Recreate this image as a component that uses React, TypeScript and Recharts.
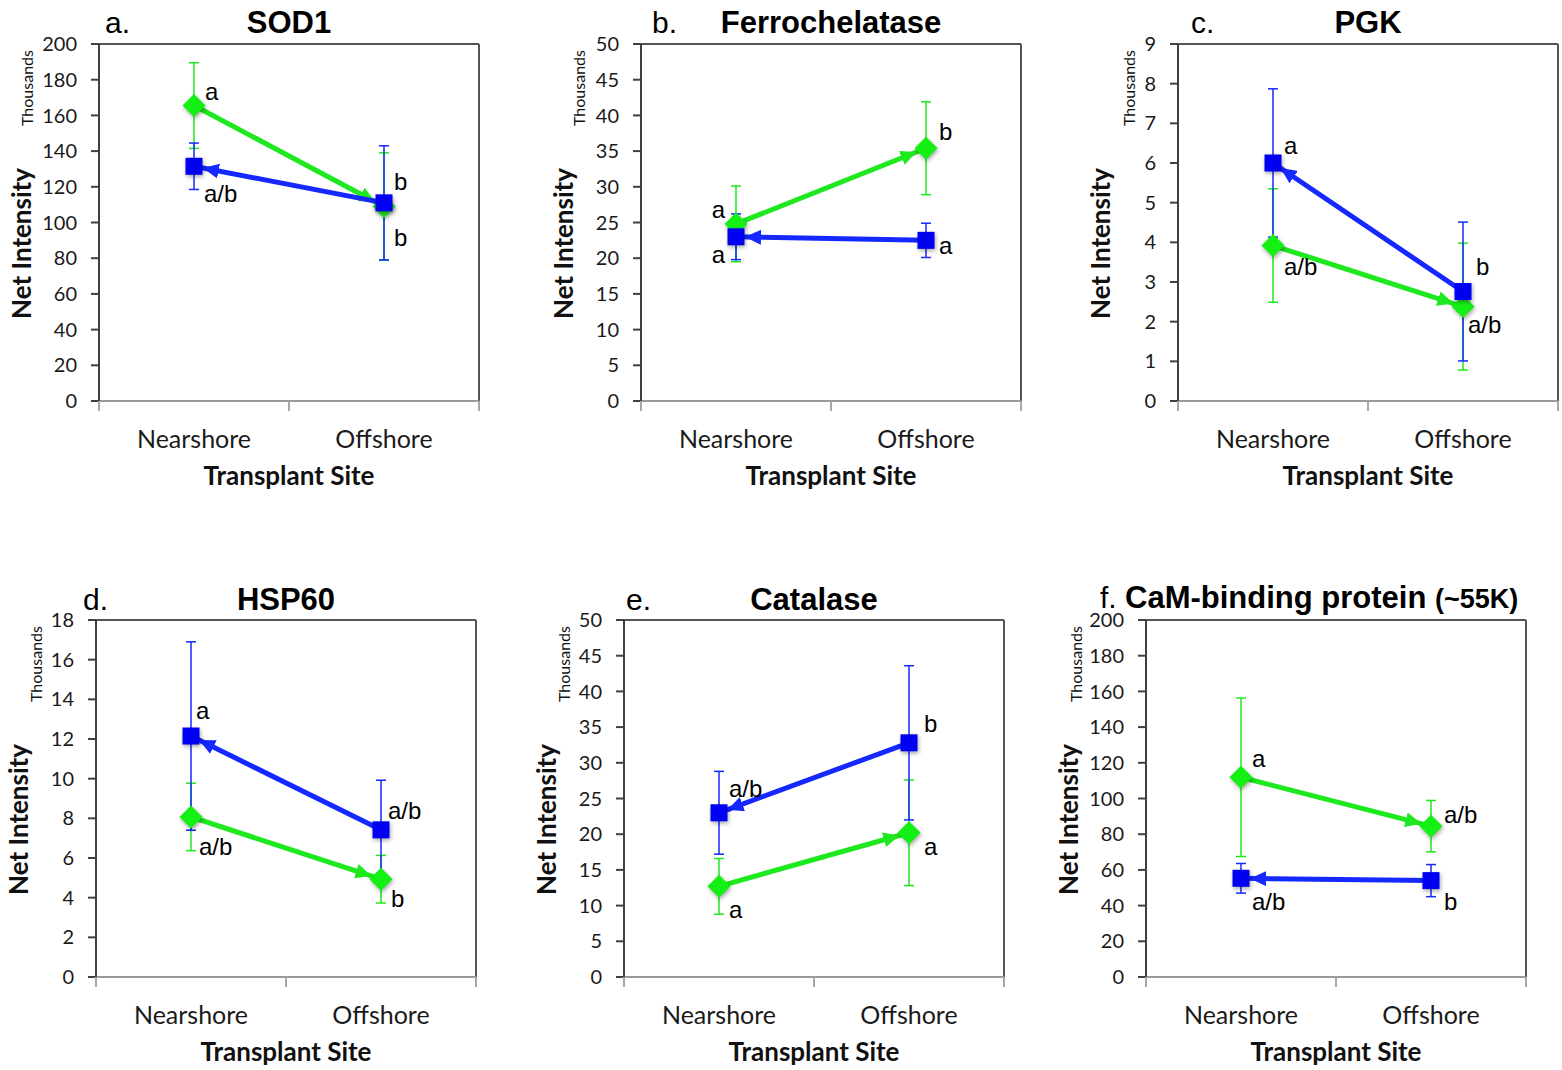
import React from 'react';
import { LineChart, Line, XAxis, YAxis, ErrorBar, LabelList, ReferenceLine } from 'recharts';

// ---------- data (values in thousands) ----------
const sites = ['Nearshore', 'Offshore'];

const sod1Green = [165.5, 109];
const sod1GreenErr = [24, 30];
const sod1Blue = [131.5, 111];
const sod1BlueErr = [13, 32];
const sod1GreenLetters = ['a', 'b'];
const sod1BlueLetters = ['a/b', 'b'];
const sod1Ticks = [0, 20, 40, 60, 80, 100, 120, 140, 160, 180, 200];

const ferroGreen = [24.8, 35.4];
const ferroGreenErr = [5.3, 6.5];
const ferroBlue = [23.0, 22.5];
const ferroBlueErr = [3.2, 2.4];
const ferroGreenLetters = ['a', 'b'];
const ferroBlueLetters = ['a', 'a'];
const ferroTicks = [0, 5, 10, 15, 20, 25, 30, 35, 40, 45, 50];

const pgkGreen = [3.92, 2.38];
const pgkGreenErr = [1.43, 1.6];
const pgkBlue = [6.0, 2.76];
const pgkBlueErr = [1.87, 1.75];
const pgkGreenLetters = ['a/b', 'a/b'];
const pgkBlueLetters = ['a', 'b'];
const pgkTicks = [0, 1, 2, 3, 4, 5, 6, 7, 8, 9];

const hspGreen = [8.07, 4.93];
const hspGreenErr = [1.7, 1.2];
const hspBlue = [12.15, 7.42];
const hspBlueErr = [4.75, 2.5];
const hspGreenLetters = ['a/b', 'b'];
const hspBlueLetters = ['a', 'a/b'];
const hspTicks = [0, 2, 4, 6, 8, 10, 12, 14, 16, 18];

const catGreen = [12.7, 20.2];
const catGreenErr = [3.9, 7.4];
const catBlue = [23.0, 32.8];
const catBlueErr = [5.8, 10.8];
const catGreenLetters = ['a', 'a'];
const catBlueLetters = ['a/b', 'b'];
const catTicks = [0, 5, 10, 15, 20, 25, 30, 35, 40, 45, 50];

const camGreen = [111.9, 84.5];
const camGreenErr = [44.4, 14.4];
const camBlue = [55.3, 54.0];
const camBlueErr = [8.3, 9.0];
const camGreenLetters = ['a', 'a/b'];
const camBlueLetters = ['a/b', 'b'];
const camTicks = [0, 20, 40, 60, 80, 100, 120, 140, 160, 180, 200];

const panelLetters = ['a.', 'b.', 'c.', 'd.', 'e.', 'f.'];
const panelTitles = ['SOD1', 'Ferrochelatase', 'PGK', 'HSP60', 'Catalase', 'CaM-binding protein'];
const panelTitleSuffix = ['', '', '', '', '', '(~55K)'];

// ---------- styles ----------
const GREEN_LINE = '#1ee81e';
const GREEN_MARK = '#14f014';
const BLUE_LINE = '#1428ff';
const BLUE_MARK = '#0000f2';
const ARIAL = '"Liberation Sans", Arial, sans-serif';
const CAL = 'Lato, "Open Sans", sans-serif';

const PLOT_W = 380;
const PLOT_H = 357;
const ML = 100; // plot left inside chart
const MT = 44; // plot top inside chart
const CW = 484;
const CH = 501;

type Off = [number, number, string?];

const layouts = [
  { pl: 99, pt: 44, letterDx: 6, titleGap: 11.5, thDx: -66,
    gOff: [[11, -5.6], [10, 40]] as Off[], bOff: [[10, 35.4], [10, -13]] as Off[] },
  { pl: 641, pt: 44, letterDx: 11, titleGap: 11.5, thDx: -56,
    gOff: [[-11, -6, 'end'], [13, -8]] as Off[], bOff: [[-11, 26, 'end'], [13, 14]] as Off[] },
  { pl: 1178, pt: 44, letterDx: 13, titleGap: 11.5, thDx: -43,
    gOff: [[11, 29.5], [5, 26.5]] as Off[], bOff: [[11, -9], [13, -16.5]] as Off[] },
  { pl: 96, pt: 620, letterDx: -13, titleGap: 10, thDx: -54,
    gOff: [[8, 38], [10, 27.5]] as Off[], bOff: [[5, -17], [7, -11]] as Off[] },
  { pl: 624, pt: 620, letterDx: 2, titleGap: 10, thDx: -54,
    gOff: [[10, 32], [15, 22]] as Off[], bOff: [[10, -16], [15, -11]] as Off[] },
  { pl: 1146, pt: 620, letterDx: -46, titleGap: 12.5, thDx: -64,
    gOff: [[11, -10.6], [13, -3]] as Off[], bOff: [[11, 32], [13, 29.5]] as Off[] },
];

const panelData = [
  { g: sod1Green, ge: sod1GreenErr, b: sod1Blue, be: sod1BlueErr, gl: sod1GreenLetters, bl: sod1BlueLetters, ticks: sod1Ticks },
  { g: ferroGreen, ge: ferroGreenErr, b: ferroBlue, be: ferroBlueErr, gl: ferroGreenLetters, bl: ferroBlueLetters, ticks: ferroTicks },
  { g: pgkGreen, ge: pgkGreenErr, b: pgkBlue, be: pgkBlueErr, gl: pgkGreenLetters, bl: pgkBlueLetters, ticks: pgkTicks },
  { g: hspGreen, ge: hspGreenErr, b: hspBlue, be: hspBlueErr, gl: hspGreenLetters, bl: hspBlueLetters, ticks: hspTicks },
  { g: catGreen, ge: catGreenErr, b: catBlue, be: catBlueErr, gl: catGreenLetters, bl: catBlueLetters, ticks: catTicks },
  { g: camGreen, ge: camGreenErr, b: camBlue, be: camBlueErr, gl: camGreenLetters, bl: camBlueLetters, ticks: camTicks },
];

const xTicks = sites.flatMap((_, i) => [i, i + 0.5]).concat([sites.length]);

const shadow = 'drop-shadow(1px 2px 2px rgba(0,0,0,0.35))';

const renderDiamond = (p: any) => {
  const { cx, cy, index } = p;
  if (cx == null || cy == null) return <g key={`gd${index}`} />;
  const r = 11.5;
  return (
    <path
      key={`gd${index}`}
      d={`M${cx},${cy - r}L${cx + r},${cy}L${cx},${cy + r}L${cx - r},${cy}Z`}
      fill={GREEN_MARK}
      style={{ filter: shadow }}
    />
  );
};

const renderSquare = (p: any) => {
  const { cx, cy, index } = p;
  if (cx == null || cy == null) return <g key={`bs${index}`} />;
  const h = 8.5;
  return (
    <rect key={`bs${index}`} x={cx - h} y={cy - h} width={2 * h} height={2 * h} fill={BLUE_MARK} style={{ filter: shadow }} />
  );
};

const makeLabel = (offs: Off[]) => (p: any) => {
  const { x, y, index, value } = p;
  const o = offs[index] || [10, 0];
  return (
    <text
      key={`lab${index}`}
      x={x + o[0]}
      y={y + o[1]}
      textAnchor={o[2] || 'start'}
      fontFamily={ARIAL}
      fontSize={24}
      fill="#000"
    >
      {value}
    </text>
  );
};

const SiteTick = (p: any) => {
  const { x, y, payload } = p;
  const v = payload.value;
  if (Number.isInteger(v)) {
    return <line x1={x} y1={y} x2={x} y2={y + 10} stroke="#a8a8a8" strokeWidth={2} />;
  }
  return (
    <text x={x} y={y + 47} textAnchor="middle" fontFamily={CAL} fontSize={25} fill="#1a1a1a">
      {sites[Math.floor(v)]}
    </text>
  );
};

function Panel({ idx }: { idx: number }) {
  const L = layouts[idx];
  const D = panelData[idx];
  const data = sites.map((site, i) => ({
    site,
    x: i + 0.5,
    green: D.g[i],
    greenErr: D.ge[i],
    blue: D.b[i],
    blueErr: D.be[i],
    greenLetter: D.gl[i],
    blueLetter: D.bl[i],
  }));
  const yMax = D.ticks[D.ticks.length - 1];
  const cx = ML + PLOT_W / 2;
  const titleY = MT - L.titleGap;
  return (
    <div style={{ position: 'absolute', left: L.pl - ML, top: L.pt - MT, width: CW, height: CH }}>
      <LineChart width={CW} height={CH} data={data} margin={{ top: MT, right: 4, bottom: 10, left: 40 }}>
        <XAxis
          type="number"
          dataKey="x"
          domain={[0, sites.length]}
          ticks={xTicks}
          interval={0}
          allowDataOverflow
          tickLine={false}
          tickSize={0}
          tickMargin={0}
          height={90}
          axisLine={{ stroke: '#9a9a9a', strokeWidth: 2 }}
          tick={(p: any) => <SiteTick {...p} />}
        />
        <YAxis
          type="number"
          domain={[0, yMax]}
          ticks={D.ticks}
          interval={0}
          allowDataOverflow
          width={60}
          tickSize={8}
          tickMargin={14}
          axisLine={{ stroke: '#404040', strokeWidth: 2 }}
          tickLine={{ stroke: '#404040', strokeWidth: 2 }}
          tick={{ fontFamily: CAL, fontSize: 20, fill: '#1a1a1a' }}
        />
        <ReferenceLine y={yMax} stroke="#555" strokeWidth={2} ifOverflow="visible" />
        <ReferenceLine x={sites.length} stroke="#555" strokeWidth={2} ifOverflow="visible" />
        <Line
          type="linear"
          dataKey="green"
          stroke={GREEN_LINE}
          strokeWidth={5}
          markerEnd="url(#arrowGreen)"
          dot={renderDiamond}
          activeDot={false}
          isAnimationActive={false}
        >
          <ErrorBar dataKey="greenErr" direction="y" width={5} stroke={GREEN_LINE} strokeWidth={1.5} />
          <LabelList dataKey="greenLetter" content={makeLabel(L.gOff)} />
        </Line>
        <Line
          type="linear"
          dataKey="blue"
          stroke={BLUE_LINE}
          strokeWidth={5}
          markerStart="url(#arrowBlue)"
          dot={renderSquare}
          activeDot={false}
          isAnimationActive={false}
        >
          <ErrorBar dataKey="blueErr" direction="y" width={5} stroke={BLUE_LINE} strokeWidth={1.5} />
          <LabelList dataKey="blueLetter" content={makeLabel(L.bOff)} />
        </Line>
      </LineChart>
      <svg
        width={CW}
        height={CH}
        style={{ position: 'absolute', left: 0, top: 0, overflow: 'visible', pointerEvents: 'none' }}
      >
        {panelTitleSuffix[idx] ? (
          <text x={ML + L.letterDx} y={titleY} fontFamily={ARIAL} fontSize={30} fill="#000">
            <tspan>{panelLetters[idx] + ' '}</tspan>
            <tspan fontWeight="bold" fontSize={31}>{panelTitles[idx] + ' '}</tspan>
            <tspan fontWeight="bold" fontSize={27}>{panelTitleSuffix[idx]}</tspan>
          </text>
        ) : (
          <>
            <text x={ML + L.letterDx} y={titleY} fontFamily={ARIAL} fontSize={30} fill="#000">
              {panelLetters[idx]}
            </text>
            <text x={cx} y={titleY} textAnchor="middle" fontFamily={ARIAL} fontWeight="bold" fontSize={31} fill="#000">
              {panelTitles[idx]}
            </text>
          </>
        )}
        <text
          transform={`translate(${ML - 68.5},${MT + 199.5}) rotate(-90)`}
          textAnchor="middle"
          fontFamily={CAL}
          fontWeight="bold"
          fontSize={26}
          fill="#111"
        >
          Net Intensity
        </text>
        <text
          transform={`translate(${ML + L.thDx},${MT + 44}) rotate(-90)`}
          textAnchor="middle"
          fontFamily={CAL}
          fontSize={16}
          fill="#111"
        >
          Thousands
        </text>
        <text x={cx} y={MT + PLOT_H + 84} textAnchor="middle" fontFamily={CAL} fontWeight="bold" fontSize={26} fill="#111">
          Transplant Site
        </text>
      </svg>
    </div>
  );
}

export default function App() {
  return (
    <div
      style={{
        position: 'absolute',
        left: 0,
        top: 0,
        width: 1562,
        height: 1070,
        overflow: 'hidden',
        background: '#fff',
      }}
    >
      <svg width={0} height={0} style={{ position: 'absolute' }}>
        <defs>
          <marker
            id="arrowGreen"
            viewBox="0 0 30 15"
            markerWidth={30}
            markerHeight={15}
            markerUnits="userSpaceOnUse"
            refX={26}
            refY={7.5}
            orient="auto-start-reverse"
          >
            <path d="M0,0L16,7.5L0,15Z" fill={GREEN_LINE} />
          </marker>
          <marker
            id="arrowBlue"
            viewBox="0 0 30 15"
            markerWidth={30}
            markerHeight={15}
            markerUnits="userSpaceOnUse"
            refX={25}
            refY={7.5}
            orient="auto-start-reverse"
          >
            <path d="M0,0L16,7.5L0,15Z" fill={BLUE_LINE} />
          </marker>
        </defs>
      </svg>
      {layouts.map((_, i) => (
        <Panel key={i} idx={i} />
      ))}
    </div>
  );
}
